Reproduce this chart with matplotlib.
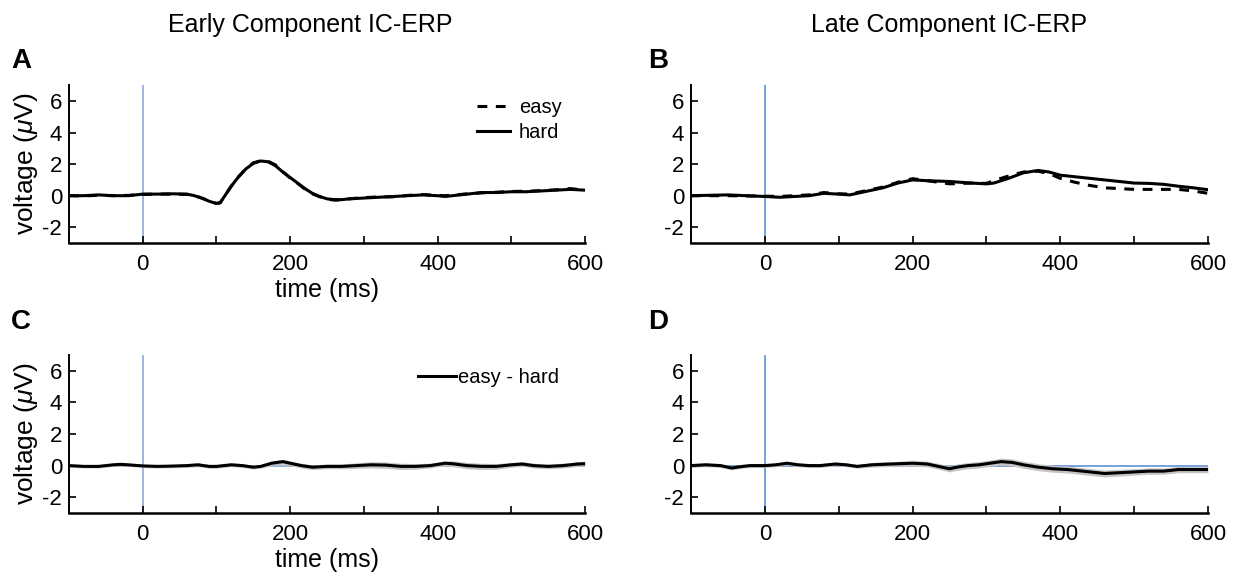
import numpy as np
import matplotlib
matplotlib.use("Agg")
import matplotlib.pyplot as plt

plt.rcParams['font.family'] = ['Liberation Sans', 'DejaVu Sans']
plt.rcParams['axes.unicode_minus'] = False
plt.rcParams['mathtext.fontset'] = 'custom'
plt.rcParams['mathtext.rm'] = 'Liberation Sans'
plt.rcParams['mathtext.it'] = 'Liberation Sans:italic'

# early component (panel A)
t_a = [-100, -80, -60, -40, -20, 0, 20, 40, 60, 70, 80, 90, 100, 105, 110, 120, 130, 140, 150,
       160, 170, 180, 190, 200, 210, 220, 230, 240, 250, 260, 270, 280, 300, 320, 340, 360,
       380, 400, 410, 420, 440, 460, 480, 500, 520, 540, 560, 580, 600]
hard_a = [0.0, 0.0, 0.05, 0.0, 0.0, 0.1, 0.1, 0.12, 0.1, 0.0, -0.15, -0.35, -0.5, -0.45, -0.1,
          0.6, 1.2, 1.7, 2.05, 2.2, 2.15, 1.9, 1.5, 1.15, 0.8, 0.45, 0.15, -0.05, -0.2, -0.25,
          -0.25, -0.2, -0.15, -0.1, -0.05, 0.0, 0.05, 0.0, -0.05, 0.0, 0.1, 0.2, 0.2, 0.25,
          0.25, 0.3, 0.35, 0.4, 0.35]
easy_a = [0.0, -0.02, 0.03, 0.0, 0.02, 0.08, 0.1, 0.1, 0.08, 0.0, -0.15, -0.33, -0.48, -0.45, -0.1,
          0.6, 1.2, 1.72, 2.08, 2.22, 2.18, 1.95, 1.52, 1.12, 0.78, 0.42, 0.12, -0.07, -0.22, -0.28,
          -0.27, -0.2, -0.12, -0.08, -0.07, 0.02, 0.07, 0.02, 0.0, 0.03, 0.12, 0.18, 0.22, 0.27,
          0.28, 0.32, 0.37, 0.45, 0.35]

# late component (panel B)
t_b = [-100, -50, 0, 20, 40, 60, 80, 100, 115, 140, 160, 180, 200, 220, 250, 280, 300, 310,
       330, 350, 370, 385, 400, 420, 440, 460, 480, 500, 520, 540, 560, 580, 600]
hard_b = [0.0, 0.05, -0.05, -0.1, -0.05, 0.0, 0.15, 0.1, 0.05, 0.3, 0.5, 0.8, 1.0, 0.95, 0.9,
          0.8, 0.75, 0.8, 1.1, 1.45, 1.6, 1.5, 1.3, 1.2, 1.1, 1.0, 0.9, 0.8, 0.78, 0.72, 0.6,
          0.5, 0.38]
easy_b = [0.0, 0.0, -0.03, -0.05, 0.0, 0.05, 0.2, 0.12, 0.1, 0.35, 0.55, 0.85, 1.08, 0.95, 0.75,
          0.8, 0.78, 0.95, 1.25, 1.5, 1.55, 1.4, 1.1, 0.85, 0.65, 0.5, 0.45, 0.4, 0.4, 0.4, 0.4,
          0.3, 0.15]

# easy - hard differences (panels C, D)
t_c = [-100, -80, -60, -40, -30, -20, 0, 20, 40, 60, 75, 90, 100, 120, 135, 150, 160, 175, 190,
       200, 215, 230, 250, 270, 290, 310, 330, 350, 370, 390, 410, 420, 440, 460, 480, 500,
       515, 530, 550, 570, 590, 600]
diff_c = [0.0, -0.05, -0.05, 0.05, 0.08, 0.05, -0.02, -0.05, -0.03, 0.0, 0.05, -0.05, -0.05,
          0.05, 0.0, -0.1, -0.05, 0.15, 0.25, 0.15, 0.0, -0.1, -0.05, -0.05, 0.0, 0.05, 0.03,
          -0.05, -0.05, 0.0, 0.15, 0.12, 0.0, -0.05, -0.05, 0.05, 0.1, 0.0, -0.05, 0.0, 0.1, 0.12]
err_c = [0.1, 0.1, 0.1, 0.1, 0.1, 0.1, 0.1, 0.1, 0.1, 0.12, 0.12, 0.12, 0.12, 0.12, 0.12, 0.12,
         0.12, 0.15, 0.15, 0.15, 0.15, 0.15, 0.15, 0.15, 0.18, 0.2, 0.2, 0.2, 0.18, 0.15, 0.15,
         0.18, 0.2, 0.2, 0.18, 0.15, 0.15, 0.15, 0.15, 0.15, 0.15, 0.15]

t_d = [-100, -80, -60, -45, -30, -20, 0, 15, 30, 45, 60, 75, 95, 110, 125, 145, 170, 200, 220,
       235, 250, 260, 275, 290, 305, 320, 335, 350, 370, 390, 410, 430, 450, 460, 480, 500,
       520, 540, 560, 580, 600]
diff_d = [0.0, 0.05, 0.0, -0.15, -0.05, 0.0, 0.0, 0.05, 0.15, 0.05, 0.0, 0.0, 0.1, 0.05, -0.05,
          0.05, 0.1, 0.15, 0.1, -0.05, -0.2, -0.1, 0.0, 0.05, 0.15, 0.25, 0.2, 0.05, -0.1, -0.2,
          -0.25, -0.35, -0.45, -0.5, -0.45, -0.4, -0.35, -0.35, -0.25, -0.25, -0.25]
err_d = [0.12, 0.12, 0.12, 0.12, 0.12, 0.12, 0.12, 0.12, 0.12, 0.12, 0.12, 0.12, 0.12, 0.12,
         0.12, 0.15, 0.15, 0.18, 0.18, 0.18, 0.2, 0.2, 0.2, 0.2, 0.2, 0.22, 0.22, 0.22, 0.22,
         0.22, 0.22, 0.22, 0.22, 0.22, 0.22, 0.2, 0.2, 0.2, 0.2, 0.2, 0.2]

xticks = [-100, 0, 100, 200, 300, 400, 500, 600]
xticklabels = ['', '0', '', '200', '', '400', '', '600']
yticks = [-2, 0, 2, 4, 6]

fig = plt.figure(figsize=(12.33, 5.8), dpi=100)
axA = fig.add_axes([0.056, 0.581, 0.4185, 0.272])
axB = fig.add_axes([0.5604, 0.581, 0.4193, 0.272])
axC = fig.add_axes([0.056, 0.1155, 0.4185, 0.2725])
axD = fig.add_axes([0.5604, 0.1155, 0.4193, 0.2725])

blue_l = '#8eaad8'
blue_r = '#6090d8'
dash = (0, (3.2, 2.8))

for ax, blue in [(axA, blue_l), (axB, blue_r), (axC, blue_l), (axD, blue_r)]:
    ax.set_xlim(-100, 600)
    ax.set_ylim(-3, 7)
    ax.spines['top'].set_visible(False)
    ax.spines['right'].set_visible(False)
    ax.spines['left'].set_linewidth(1.4)
    ax.spines['bottom'].set_linewidth(1.8)
    ax.set_xticks(xticks)
    ax.set_xticklabels(xticklabels)
    ax.set_yticks(yticks)
    ax.tick_params(axis='x', direction='in', length=5, width=1.2, labelsize=16, pad=8)
    ax.tick_params(axis='y', direction='in', length=5, width=1.2, labelsize=16, pad=5)
    ax.axvline(0, color=blue, lw=1.2, zorder=1)

axC.axhline(0, color=blue_l, lw=1.2, zorder=1)
axD.axhline(0, color=blue_r, lw=1.2, zorder=1)

axA.plot(t_a, easy_a, color='black', lw=2.2, ls=dash, label='easy', zorder=3)
axA.plot(t_a, hard_a, color='black', lw=2.2, label='hard', zorder=2)
axA.legend(loc='upper right', bbox_to_anchor=(0.97, 0.97), frameon=False, fontsize=14.5,
           handlelength=1.6, handletextpad=0.45, borderaxespad=0.0, labelspacing=0.3)

axB.plot(t_b, easy_b, color='black', lw=2.2, ls=dash, zorder=3)
axB.plot(t_b, hard_b, color='black', lw=2.2, zorder=2)

dc = np.array(diff_c)
ec = np.array(err_c)
axC.fill_between(t_c, dc - ec, dc + ec, color='#c4c4c4', lw=0, zorder=2)
axC.plot(t_c, diff_c, color='black', lw=2.2, label='easy - hard', zorder=3)
axC.legend(loc='upper right', bbox_to_anchor=(0.965, 0.97), frameon=False, fontsize=14.5,
           handlelength=1.9, handletextpad=0.1, borderaxespad=0.0)

dd = np.array(diff_d)
ed = np.array(err_d)
axD.fill_between(t_d, dd - ed, dd + ed, color='#c4c4c4', lw=0, zorder=2)
axD.plot(t_d, diff_d, color='black', lw=2.2, zorder=3)

for ax in [axA, axC]:
    ax.set_xlabel('time (ms)', fontsize=18, labelpad=2)
    ax.set_ylabel('voltage ($\\mu$V)', fontsize=19, labelpad=2)

fig.text(0.252, 0.945, 'Early Component IC-ERP', ha='center', va='baseline', fontsize=18)
fig.text(0.77, 0.945, 'Late Component IC-ERP', ha='center', va='baseline', fontsize=18)
for x, y, s in [(0.009, 0.883, 'A'), (0.526, 0.883, 'B'), (0.009, 0.432, 'C'), (0.526, 0.432, 'D')]:
    fig.text(x, y, s, fontsize=20, fontweight='bold', ha='left', va='baseline')

fig.savefig('out.png', dpi=100)
